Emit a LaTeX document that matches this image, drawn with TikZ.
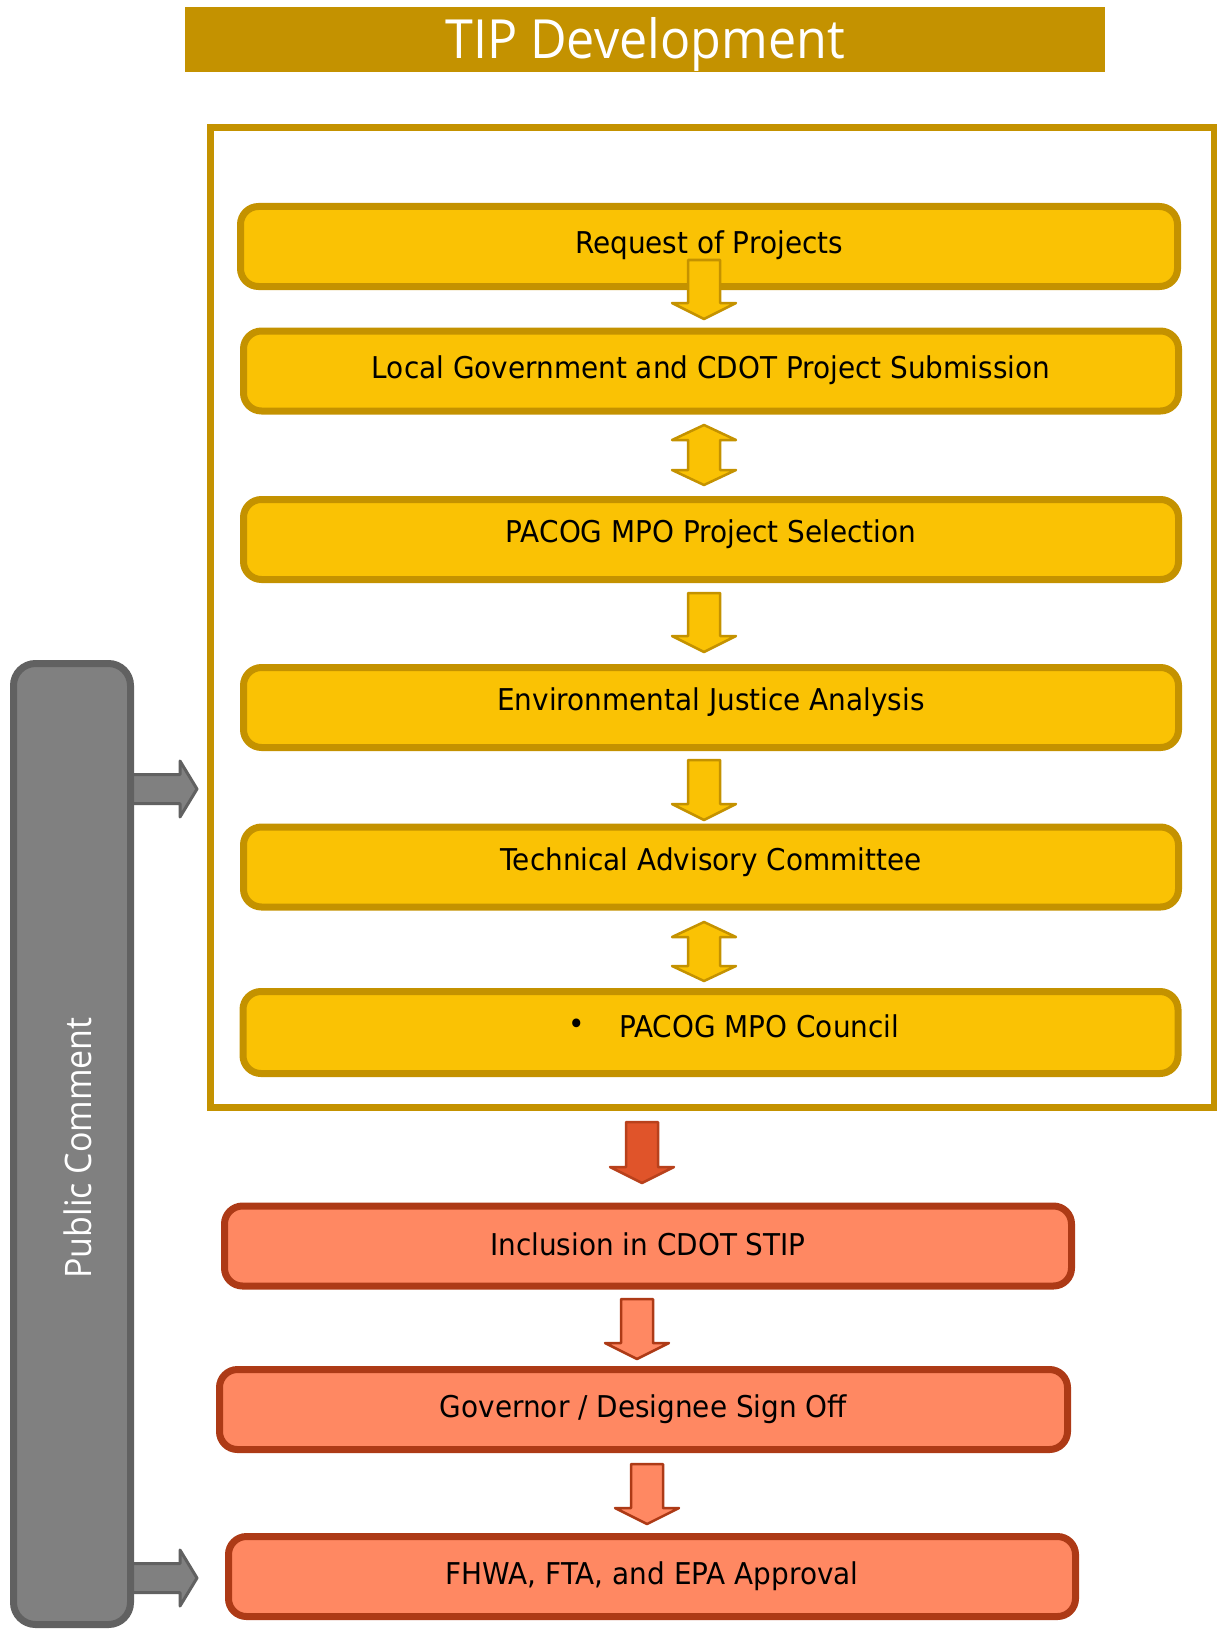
\documentclass[tikz,border=0pt]{standalone}
\usepackage{fontspec}
\setmainfont[FakeStretch=0.93]{DejaVu Sans}
\newfontfamily\ttlfont[FakeStretch=0.93]{Open Sans}
\definecolor{gold}{RGB}{196,146,0}
\definecolor{yfill}{RGB}{250,194,4}
\definecolor{sfill}{RGB}{255,136,98}
\definecolor{sdraw}{RGB}{173,58,22}
\definecolor{rfill}{RGB}{224,84,42}
\definecolor{rdraw}{RGB}{184,65,28}
\definecolor{gfill}{RGB}{128,128,128}
\definecolor{gdraw}{RGB}{97,97,97}
\newcommand{\DnArrow}[4]{% style, x, top, bottom
  \draw[#1] (#2-16,#3) -- (#2+16,#3) -- (#2+16,#4-16) -- (#2+32,#4-16) -- (#2,#4)
    -- (#2-32,#4-16) -- (#2-16,#4-16) -- cycle;}
\newcommand{\UpDnArrow}[4]{%
  \draw[#1] (#2,#3) -- (#2+32,#3+15) -- (#2+16,#3+15) -- (#2+16,#4-15) -- (#2+32,#4-15)
    -- (#2,#4) -- (#2-32,#4-15) -- (#2-16,#4-15) -- (#2-16,#3+15) -- (#2-32,#3+15) -- cycle;}
\newcommand{\RtArrow}[4]{% style, y, left, tip
  \draw[#1] (#3,#2-14.5) -- (#4-17,#2-14.5) -- (#4-17,#2-28) -- (#4,#2) -- (#4-17,#2+28)
    -- (#4-17,#2+14.5) -- (#3,#2+14.5) -- cycle;}
\tikzset{
  ybox/.style={draw=gold, fill=yfill, line width=7pt, rounded corners=18pt,
    minimum width=935pt, minimum height=80pt, inner sep=0pt},
  sbox/.style={draw=sdraw, fill=sfill, line width=7pt, rounded corners=18pt,
    minimum width=847pt, minimum height=80pt, inner sep=0pt},
  lbl/.style={inner sep=0pt, text=black, font=\fontsize{30}{36}\selectfont},
  yarr/.style={draw=gold, fill=yfill, line width=2.5pt, line join=round},
  rarr/.style={draw=rdraw, fill=rfill, line width=2.5pt, line join=round},
  sarr/.style={draw=sdraw, fill=sfill, line width=2.5pt, line join=round},
  garr/.style={draw=gdraw, fill=gfill, line width=3pt, line join=round},
}
\begin{document}
\begin{tikzpicture}[x=1pt,y=-1pt]
\useasboundingbox (0,0) rectangle (1216,1629);
% title
\node[fill=gold, minimum width=920pt, minimum height=65pt, inner sep=0pt] (title) at (645,39.5) {};
\node[text=white, inner sep=0pt, font=\ttlfont\fontsize{54}{60}\selectfont] (titletext)
  at ([yshift=-5pt]title.center) {TIP Development};
% frame
\draw[gold, line width=6.5pt] (210.5,127.5) rectangle (1214.5,1107.5);
% yellow boxes
\node[ybox, minimum width=937pt] (b1) at (709,246.5) {};
\node[ybox] (b2) at (711,371) {};
\node[ybox] (b3) at (711,539.5) {};
\node[ybox] (b4) at (711,707.5) {};
\node[ybox] (b5) at (711,867) {};
\node[ybox, minimum height=82pt] (b6) at (710.5,1032.5) {};
\node[lbl] (t1) at ([yshift=1pt]b1.center) {Request of Projects};
\node[lbl] (t2) at ([yshift=1pt]b2.center) {Local Government and CDOT Project Submission};
\node[lbl] (t3) at ([yshift=5pt]b3.center) {PACOG MPO Project Selection};
\node[lbl] (t4) at ([yshift=5pt]b4.center) {Environmental Justice Analysis};
\node[lbl] (t5) at ([yshift=5pt]b5.center) {Technical Advisory Committee};
\node[lbl] (t6b) at ([xshift=-133.5pt,yshift=6pt]b6.center) {\textbullet};
\node[lbl, anchor=west] (t6) at ([xshift=-91.5pt,yshift=6pt]b6.center) {PACOG MPO Council};
% salmon boxes
\node[sbox] (b7) at (648,1246) {};
\node[sbox, minimum width=848pt] (b8) at (643.5,1409.5) {};
\node[sbox] (b9) at (652,1576.5) {};
\node[lbl] (t7) at ([yshift=2pt]b7.center) {Inclusion in CDOT STIP};
\node[lbl] (t8) at (b8.center) {Governor / Designee Sign Off};
\node[lbl] (t9) at (b9.center) {FHWA, FTA, and EPA Approval};
% yellow arrows
\DnArrow{yarr}{704}{260}{319}
\UpDnArrow{yarr}{704}{425}{485}
\DnArrow{yarr}{704}{593}{652}
\DnArrow{yarr}{704}{760}{820}
\UpDnArrow{yarr}{704}{922}{981}
% red / salmon arrows
\DnArrow{rarr}{642}{1122}{1183}
\DnArrow{sarr}{637}{1299}{1359}
\DnArrow{sarr}{647}{1464}{1524}
% gray arrows and bar
\RtArrow{garr}{789}{125}{197}
\RtArrow{garr}{1578}{125}{197}
\node[draw=gdraw, fill=gfill, line width=7pt, rounded corners=22pt,
  minimum width=117pt, minimum height=961pt, inner sep=0pt] (pc) at (72,1144) {};
\node[rotate=90, text=white, font=\ttlfont\fontsize{36.5}{40}\selectfont] (pct) at (78,1148) {Public Comment};
\end{tikzpicture}
\end{document}
